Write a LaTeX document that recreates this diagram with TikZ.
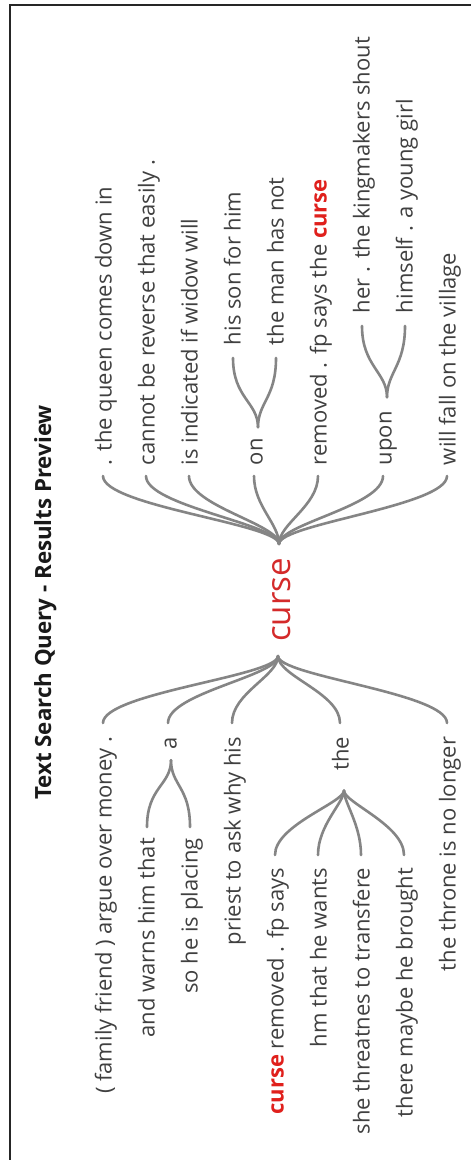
\documentclass[tikz,border=0pt]{standalone}
\usepackage{fontspec}
\setmainfont{Open Sans}
\usetikzlibrary{calc}
\definecolor{txt}{HTML}{404040}
\definecolor{ln}{HTML}{858585}
\definecolor{hl}{HTML}{E0201C}
\definecolor{bigred}{HTML}{D42A2A}
\begin{document}
\begin{tikzpicture}[x=1pt,y=1pt,
  w/.style={rotate=90, inner sep=0pt, outer sep=0pt, text=txt, font=\fontsize{22}{26}\selectfont},
  rs/.style={w, anchor=mid west},
  ls/.style={w, anchor=mid east},
  conn/.style={draw=ln, line width=2.6pt, line cap=round},
  frame/.style={draw=black!85, line width=2pt},
  ]
\useasboundingbox (0,0) rectangle (471,-1160);
\fill[white] (0,0) rectangle (471,-1160);
\draw[frame] (10,-1170) -- (10,-5) -- (480,-5);

% title
\node[rotate=90, anchor=base west, inner sep=0pt, text=black!90,
  font=\fontsize{22.3}{26}\selectfont\bfseries] (title) at (51,-800) {Text Search Query - Results Preview};

% centre word
\node[rotate=90, anchor=mid, inner sep=0pt, text=bigred,
  font=\fontsize{33}{40}\selectfont] (curse) at (288,-600) {curse};
\coordinate (hubR) at ($(curse.mid east)+(-9,14)$);
\coordinate (hubL) at ($(curse.mid west)+(-10,-14)$);

% right context (after the word)
\node[rs] (r1) at (109,-465) {. the queen comes down in};
\node[rs] (r2) at (152,-465) {cannot be reverse that easily .};
\node[rs] (r3) at (195,-465) {is indicated if widow will};
\node[rs] (on) at (260,-465) {on};
\node[rs] (on1) at (238,-345) {his son for him};
\node[rs] (on2) at (281,-345) {the man has not};
\node[rs] (r5) at (324,-465) {removed . fp says the \textcolor{hl}{\bfseries curse}};
\node[rs] (up) at (389,-465) {upon};
\node[rs] (up1) at (367,-313) {her . the kingmakers shout};
\node[rs] (up2) at (410,-313) {himself . a young girl};
\node[rs] (r7) at (453,-465) {will fall on the village};

% left context (before the word)
\node[ls] (l1) at (109,-737) {( family friend ) argue over money .};
\node[ls] (a) at (174,-737) {a};
\node[ls] (a1) at (152,-838) {and warns him that};
\node[ls] (a2) at (195,-838) {so he is placing};
\node[ls] (l3) at (238,-737) {priest to ask why his};
\node[ls] (the) at (346,-737) {the};
\node[ls] (t1) at (281,-868) {\textcolor{hl}{\bfseries curse} removed . fp says};
\node[ls] (t2) at (324,-868) {hm that he wants};
\node[ls] (t3) at (367,-868) {she threatnes to transfere};
\node[ls] (t4) at (410,-868) {there maybe he brought};
\node[ls] (l5) at (453,-737) {the throne is no longer};

% connector end points
\foreach \n in {r1,r2,r3,on,r5,up,r7}
  \coordinate (\n e) at ($(\n.mid west)+(-6,-11)$);
\foreach \n in {on1,on2,up1,up2}
  \coordinate (\n e) at ($(\n.mid west)+(-5,-13)$);
\foreach \n in {l1,a,l3,the,l5}
  \coordinate (\n e) at ($(\n.mid east)+(-6,14)$);
\foreach \n in {a1,a2}
  \coordinate (\n e) at ($(\n.mid east)+(-5,11)$);
\foreach \n in {t1,t2,t3,t4}
  \coordinate (\n e) at ($(\n.mid east)+(-6,13)$);
\coordinate (onf) at ($(on.mid east)+(-2,11)$);
\coordinate (upf) at ($(up.mid east)+(-2,14)$);
\coordinate (af) at ($(a.mid west)+(-3,-11)$);
\coordinate (thef) at ($(the.mid west)+(-2,-20)$);

% connectors
\foreach \n in {r1,r2,r3,on,r5,up,r7}
  \draw[conn] (hubR) .. controls +(0,20) and +(0,-30) .. (\n e);
\foreach \n in {l1,a,l3,the,l5}
  \draw[conn] (hubL) .. controls +(0,-20) and +(0,30) .. (\n e);
\foreach \n in {on1,on2}
  \draw[conn] (onf) .. controls +(0,25) and +(0,-40) .. (\n e);
\foreach \n in {up1,up2}
  \draw[conn] (upf) .. controls +(0,25) and +(0,-40) .. (\n e);
\foreach \n in {a1,a2}
  \draw[conn] (af) .. controls +(0,-25) and +(0,40) .. (\n e);
\foreach \n in {t1,t2,t3,t4}
  \draw[conn] (thef) .. controls +(0,-12) and +(0,30) .. (\n e);
\end{tikzpicture}
\end{document}
